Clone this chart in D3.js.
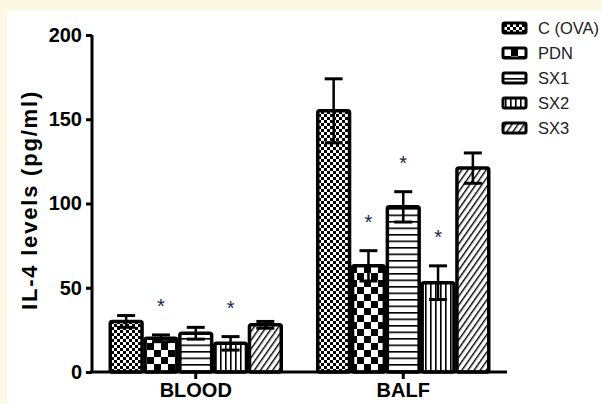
<!DOCTYPE html>
<html>
<head>
<meta charset="utf-8">
<script src="https://cdn.jsdelivr.net/npm/d3@7"></script>
<style>
  body { margin: 0; background: #fdf8e4; }
  svg { display: block; }
</style>
</head>
<body>
<svg id="chart" width="602" height="404"></svg>
<script>
// data
const groups = ["BLOOD", "BALF"];
const seriesNames = ["C (OVA)", "PDN", "SX1", "SX2", "SX3"];
const bloodMeans = [30, 20, 23, 17, 28];
const bloodSem = [3.5, 2, 3.5, 4, 2];
const balfMeans = [155, 63, 98, 53, 121];
const balfSem = [19, 9, 9, 10, 9];
const bloodStars = [false, true, false, true, false];
const balfStars = [false, true, true, true, false];
const yTicks = [0, 50, 100, 150, 200];

const rows = [
  {group: "BLOOD", means: bloodMeans, sem: bloodSem, stars: bloodStars},
  {group: "BALF", means: balfMeans, sem: balfSem, stars: balfStars},
];

const narrow = "'Liberation Sans Narrow', 'Arial Narrow', 'Liberation Sans', Arial, sans-serif";
const sans = "'Liberation Sans', Arial, sans-serif";

const svg = d3.select("#chart");

// white panel over the cream page
svg.append("rect").attr("x", 7).attr("y", 10).attr("width", 602).attr("height", 404).attr("fill", "#fff");

// patterns
const defs = svg.append("defs");
const patternIds = ["p-fine", "p-check", "p-horiz", "p-vert", "p-diag"];

let p = defs.append("pattern").attr("id", "p-fine").attr("patternUnits", "userSpaceOnUse").attr("width", 6).attr("height", 6);
p.append("rect").attr("width", 6).attr("height", 6).attr("fill", "#fff");
p.append("rect").attr("width", 3).attr("height", 3).attr("fill", "#000");
p.append("rect").attr("x", 3).attr("y", 3).attr("width", 3).attr("height", 3).attr("fill", "#000");

p = defs.append("pattern").attr("id", "p-check").attr("patternUnits", "userSpaceOnUse").attr("width", 14).attr("height", 14);
p.append("rect").attr("width", 14).attr("height", 14).attr("fill", "#fff");
p.append("rect").attr("width", 7).attr("height", 7).attr("fill", "#000");
p.append("rect").attr("x", 7).attr("y", 7).attr("width", 7).attr("height", 7).attr("fill", "#000");

p = defs.append("pattern").attr("id", "p-horiz").attr("patternUnits", "userSpaceOnUse").attr("width", 6).attr("height", 6.5);
p.append("rect").attr("width", 6).attr("height", 6.5).attr("fill", "#fff");
p.append("rect").attr("y", 0).attr("width", 6).attr("height", 1.6).attr("fill", "#000");

p = defs.append("pattern").attr("id", "p-vert").attr("patternUnits", "userSpaceOnUse").attr("width", 5).attr("height", 6);
p.append("rect").attr("width", 5).attr("height", 6).attr("fill", "#fff");
p.append("rect").attr("x", 0).attr("width", 1.6).attr("height", 6).attr("fill", "#000");

p = defs.append("pattern").attr("id", "p-diag").attr("patternUnits", "userSpaceOnUse").attr("width", 5).attr("height", 5)
  .attr("patternTransform", "rotate(35)");
p.append("rect").attr("width", 5).attr("height", 5).attr("fill", "#fff");
p.append("rect").attr("x", 0).attr("width", 1.4).attr("height", 5).attr("fill", "#000");

// scales
const x0 = d3.scaleBand().domain(groups).range([92, 507]);
const x1 = d3.scaleBand().domain(seriesNames).range([-87, 87]);
const y = d3.scaleLinear().domain([0, 200]).range([372, 35]);

const g = svg.append("g");

rows.forEach(row => {
  const cx = x0(row.group) + x0.bandwidth() / 2;
  seriesNames.forEach((s, i) => {
    const bx = cx + x1(s);
    const bw = x1.bandwidth();
    const m = row.means[i], e = row.sem[i];
    g.append("rect")
      .attr("x", bx + 1.5).attr("y", y(m))
      .attr("width", bw - 3).attr("height", y(0) - y(m))
      .attr("rx", 2)
      .attr("fill", `url(#${patternIds[i]})`)
      .attr("stroke", "#000").attr("stroke-width", 3.5);
    const mx = bx + bw / 2;
    g.append("line").attr("x1", mx).attr("x2", mx).attr("y1", y(m - e)).attr("y2", y(m + e))
      .attr("stroke", "#000").attr("stroke-width", 2.5);
    [m + e, m - e].forEach(v => {
      g.append("line").attr("x1", mx - 9).attr("x2", mx + 9).attr("y1", y(v)).attr("y2", y(v))
        .attr("stroke", "#000").attr("stroke-width", 3);
    });
    if (row.stars[i]) {
      g.append("text").attr("x", mx).attr("y", y(m + e + 19) + 10)
        .attr("text-anchor", "middle")
        .attr("font-family", sans)
        .attr("font-size", 20).attr("fill", "#1a2548").text("*");
    }
  });
});

// y axis
const yAxis = d3.axisLeft(y).tickValues(yTicks).tickSize(6).tickPadding(4).tickFormat(d3.format("d"));
const ya = svg.append("g").attr("transform", "translate(92,0)").call(yAxis);
ya.select(".domain").attr("stroke-width", 3).attr("d", "M0,35V372");
ya.selectAll(".tick line").attr("stroke-width", 3);
ya.selectAll(".tick text").attr("font-family", narrow)
  .attr("font-weight", "bold").attr("font-size", 20).attr("fill", "#000");

// x axis
const xAxis = d3.axisBottom(x0).tickSize(7).tickPadding(4);
const xa = svg.append("g").attr("transform", "translate(0,372)").call(xAxis);
xa.select(".domain").attr("stroke-width", 3).attr("d", "M90,0H507");
xa.selectAll(".tick line").attr("stroke-width", 3);
xa.selectAll(".tick text").attr("font-family", sans)
  .attr("font-weight", "bold").attr("font-size", 20).attr("fill", "#000");

// y label
svg.append("text")
  .attr("transform", "translate(37,200) rotate(-90)")
  .attr("text-anchor", "middle")
  .attr("font-family", sans)
  .attr("font-weight", "bold").attr("font-size", 22)
  .attr("letter-spacing", 1.8)
  .text("IL-4 levels (pg/ml)");

// legend
const legend = svg.append("g");
seriesNames.forEach((s, i) => {
  const ly = 28 + i * 25;
  legend.append("rect").attr("x", 503).attr("y", ly - 5).attr("width", 23).attr("height", 10).attr("rx", 1.5)
    .attr("fill", `url(#${patternIds[i]})`).attr("stroke", "#000").attr("stroke-width", 3);
  legend.append("text").attr("x", 538).attr("y", ly + 6)
    .attr("font-family", sans)
    .attr("font-size", 16.5).attr("fill", "#222").text(s);
});
</script>
</body>
</html>
